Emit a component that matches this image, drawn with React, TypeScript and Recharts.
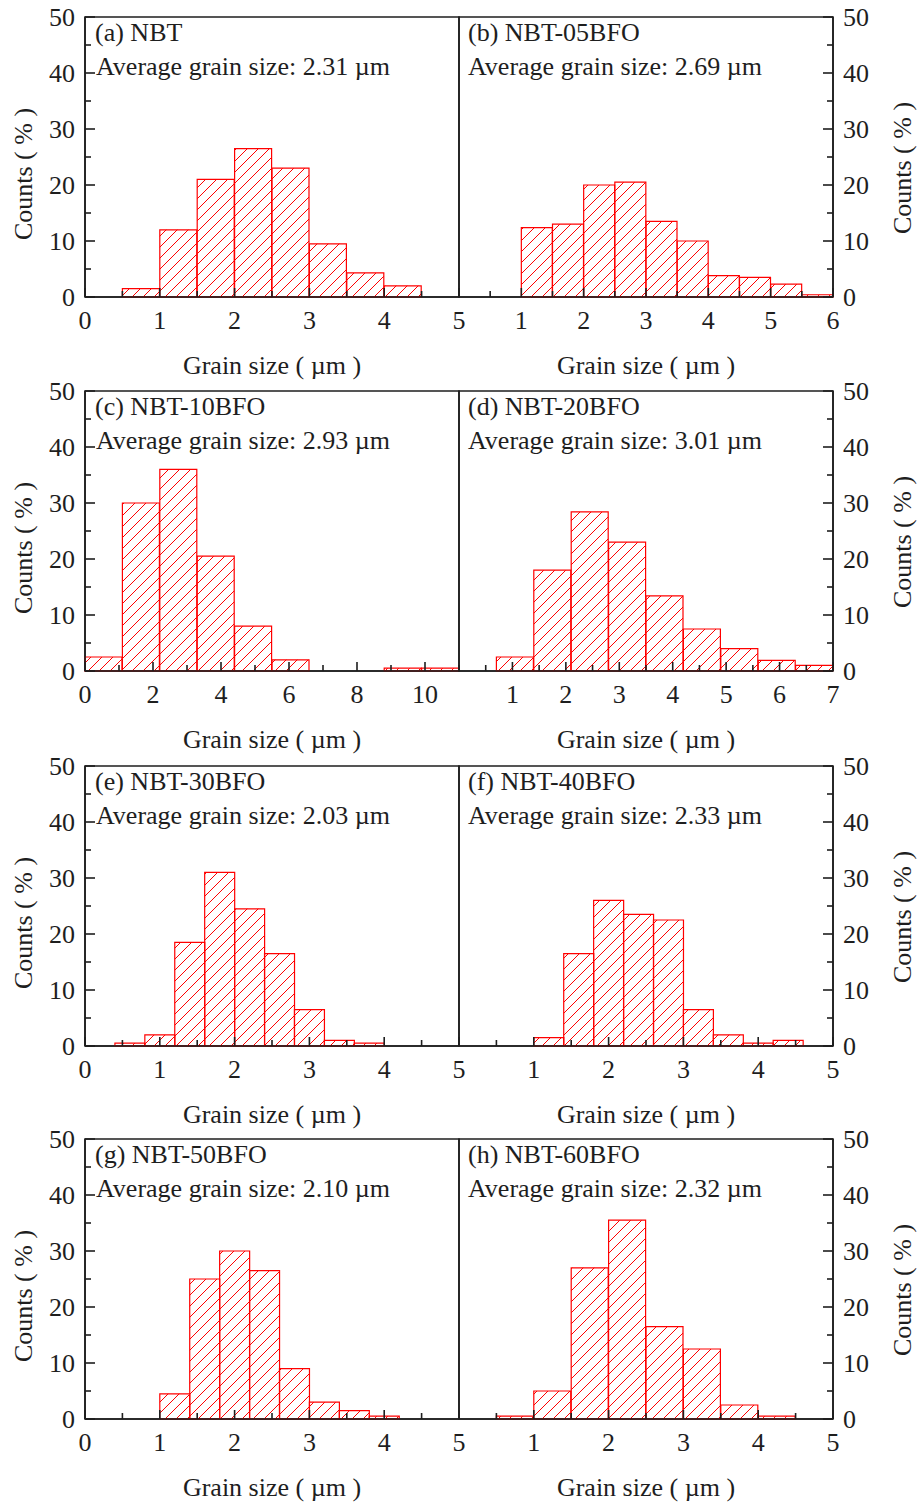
import { BarChart, Bar, XAxis, YAxis, ReferenceArea, Label } from "recharts";

const FONT = '"Liberation Serif", "Times New Roman", serif';
const RED = "#ff0000";
const INK = "#1e1e1e";
const FS = 26;

// bin centres (µm) and counts (%)
const aCenters = [0.75, 1.25, 1.75, 2.25, 2.75, 3.25, 3.75, 4.25];
const aCounts = [1.5, 12, 21, 26.5, 23, 9.5, 4.3, 2];

const bCenters = [1.25, 1.75, 2.25, 2.75, 3.25, 3.75, 4.25, 4.75, 5.25, 5.75];
const bCounts = [12.4, 13, 20, 20.5, 13.5, 10, 3.8, 3.5, 2.3, 0.4];

const cCenters = [0.55, 1.65, 2.75, 3.85, 4.95, 6.05, 7.15, 8.25, 9.35, 10.45];
const cCounts = [2.5, 30, 36, 20.5, 8, 2, 0, 0, 0.5, 0.5];

const dCenters = [1.05, 1.75, 2.45, 3.15, 3.85, 4.55, 5.25, 5.95, 6.65];
const dCounts = [2.5, 18, 28.4, 23, 13.4, 7.5, 4, 1.9, 1];

const eCenters = [0.6, 1.0, 1.4, 1.8, 2.2, 2.6, 3.0, 3.4, 3.8];
const eCounts = [0.5, 2, 18.5, 31, 24.5, 16.5, 6.5, 1, 0.5];

const fCenters = [1.2, 1.6, 2.0, 2.4, 2.8, 3.2, 3.6, 4.0, 4.4];
const fCounts = [1.5, 16.5, 26, 23.5, 22.5, 6.5, 2, 0.5, 1];

const gCenters = [1.2, 1.6, 2.0, 2.4, 2.8, 3.2, 3.6, 4.0];
const gCounts = [4.5, 25, 30, 26.5, 9, 3, 1.5, 0.5];

const hCenters = [0.75, 1.25, 1.75, 2.25, 2.75, 3.25, 3.75, 4.25];
const hCounts = [0.5, 5, 27, 35.5, 16.5, 12.5, 2.5, 0.5];

// axis ticks
const yTicks = [0, 5, 10, 15, 20, 25, 30, 35, 40, 45, 50];
const yLabels = [0, 10, 20, 30, 40, 50];
const ticks5L = [0, 0.5, 1, 1.5, 2, 2.5, 3, 3.5, 4, 4.5, 5];
const labels5L = [0, 1, 2, 3, 4, 5];
const ticks5R = [0.5, 1, 1.5, 2, 2.5, 3, 3.5, 4, 4.5, 5];
const labels5R = [1, 2, 3, 4, 5];
const ticks6R = [0.5, 1, 1.5, 2, 2.5, 3, 3.5, 4, 4.5, 5, 5.5, 6];
const labels6R = [1, 2, 3, 4, 5, 6];
const ticks11L = [0, 1, 2, 3, 4, 5, 6, 7, 8, 9, 10, 11];
const labels11L = [0, 2, 4, 6, 8, 10];
const ticks7R = [0.5, 1, 1.5, 2, 2.5, 3, 3.5, 4, 4.5, 5, 5.5, 6, 6.5, 7];
const labels7R = [1, 2, 3, 4, 5, 6, 7];

const rowTops = [17, 391, 766, 1139];

const panels = [
  { id: "a", title: "(a) NBT", avg: "2.31", side: "left", row: 0, max: 5, centers: aCenters, counts: aCounts, ticks: ticks5L, labels: labels5L },
  { id: "b", title: "(b) NBT-05BFO", avg: "2.69", side: "right", row: 0, max: 6, centers: bCenters, counts: bCounts, ticks: ticks6R, labels: labels6R },
  { id: "c", title: "(c) NBT-10BFO", avg: "2.93", side: "left", row: 1, max: 11, centers: cCenters, counts: cCounts, ticks: ticks11L, labels: labels11L },
  { id: "d", title: "(d) NBT-20BFO", avg: "3.01", side: "right", row: 1, max: 7, centers: dCenters, counts: dCounts, ticks: ticks7R, labels: labels7R },
  { id: "e", title: "(e) NBT-30BFO", avg: "2.03", side: "left", row: 2, max: 5, centers: eCenters, counts: eCounts, ticks: ticks5L, labels: labels5L },
  { id: "f", title: "(f) NBT-40BFO", avg: "2.33", side: "right", row: 2, max: 5, centers: fCenters, counts: fCounts, ticks: ticks5R, labels: labels5R },
  { id: "g", title: "(g) NBT-50BFO", avg: "2.10", side: "left", row: 3, max: 5, centers: gCenters, counts: gCounts, ticks: ticks5L, labels: labels5L },
  { id: "h", title: "(h) NBT-60BFO", avg: "2.32", side: "right", row: 3, max: 5, centers: hCenters, counts: hCounts, ticks: ticks5R, labels: labels5R },
];

const textStyle = { fontFamily: FONT, fontSize: FS, fill: INK };

function xTick(labels: number[]) {
  return (props: any) => {
    const { x, y, payload } = props;
    const major = labels.includes(payload.value);
    return (
      <g>
        <line x1={x} y1={y} x2={x} y2={y - (major ? 9 : 6)} stroke={INK} strokeWidth={1.6} />
        {major && (
          <text x={x} y={y + 32} textAnchor="middle" style={textStyle}>
            {payload.value}
          </text>
        )}
      </g>
    );
  };
}

function yTick(right: boolean) {
  return (props: any) => {
    const { x, y, payload } = props;
    const major = yLabels.includes(payload.value);
    const len = major ? 10 : 6;
    const dir = right ? -1 : 1;
    return (
      <g>
        <line x1={x} y1={y} x2={x + dir * len} y2={y} stroke={INK} strokeWidth={1.6} />
        {major && (
          <text
            x={right ? x + 10 : x - 10}
            y={y}
            dy={9}
            textAnchor={right ? "start" : "end"}
            style={textStyle}
          >
            {payload.value}
          </text>
        )}
      </g>
    );
  };
}

function Panel({ p }: { p: (typeof panels)[number] }) {
  const right = p.side === "right";
  const data = p.centers.map((c, i) => ({ size: c, count: p.counts[i] }));
  const top = rowTops[p.row] - 17;
  const chartLeft = right ? 443 : 0;
  const chartWidth = right ? 476 : 475;
  const yLabelX = right ? 459 : 23;
  const yLabelShift = right ? 11 : 17;
  return (
    <>
      <div style={{ position: "absolute", left: chartLeft, top }}>
        <BarChart
          width={chartWidth}
          height={380}
          data={data}
          barCategoryGap={0}
          barGap={0}
          margin={{ top: 17, right: right ? 0 : 16, left: right ? 16 : 0, bottom: 10 }}
        >
          <defs>
            <pattern id={`hatch-${p.id}`} patternUnits="userSpaceOnUse" width={11} height={11}>
              <path d="M0,11 L11,0 M-3,3 L3,-3 M8,14 L14,8" stroke={RED} strokeWidth={1} />
            </pattern>
          </defs>
          <ReferenceArea
            x1={0}
            x2={p.max}
            y1={0}
            y2={50}
            fill="none"
            stroke={INK}
            strokeWidth={1.6}
            ifOverflow="visible"
          />
          <Bar
            dataKey="count"
            fill={`url(#hatch-${p.id})`}
            stroke={RED}
            strokeWidth={1.2}
            isAnimationActive={false}
          />
          <XAxis
            dataKey="size"
            type="number"
            domain={[0, p.max]}
            ticks={p.ticks}
            interval={0}
            height={73}
            tickSize={0}
            tickMargin={0}
            tickLine={false}
            tick={xTick(p.labels)}
            axisLine={{ stroke: INK, strokeWidth: 1.6 }}
          >
            <Label
              content={(lp: any) => {
                const vb = lp.viewBox || {};
                return (
                  <text
                    x={(vb.x ?? 0) + (vb.width ?? 0) / 2}
                    y={(vb.y ?? 0) + 77}
                    textAnchor="middle"
                    style={textStyle}
                  >
                    Grain size ( µm )
                  </text>
                );
              }}
            />
          </XAxis>
          <YAxis
            orientation={right ? "right" : "left"}
            type="number"
            domain={[0, 50]}
            ticks={yTicks}
            interval={0}
            width={right ? 86 : 85}
            tickSize={0}
            tickMargin={0}
            tickLine={false}
            tick={yTick(right)}
            axisLine={{ stroke: INK, strokeWidth: 1.6 }}
          >
            <Label
              content={(lp: any) => {
                const vb = lp.viewBox || {};
                const cy = (vb.y ?? 17) + (vb.height ?? 280) / 2 + yLabelShift;
                return (
                  <text
                    x={yLabelX}
                    y={cy}
                    dy={9}
                    transform={`rotate(-90 ${yLabelX} ${cy})`}
                    textAnchor="middle"
                    style={textStyle}
                  >
                    Counts ( % )
                  </text>
                );
              }}
            />
          </YAxis>
        </BarChart>
      </div>
      <div
        style={{
          position: "absolute",
          left: right ? 468 : 95,
          top: rowTops[p.row] + 3,
          fontFamily: FONT,
          fontSize: FS,
          lineHeight: "26px",
          color: INK,
          whiteSpace: "nowrap",
        }}
      >
        {p.title}
      </div>
      <div
        style={{
          position: "absolute",
          left: right ? 468 : 96,
          top: rowTops[p.row] + 37,
          fontFamily: FONT,
          fontSize: FS,
          lineHeight: "26px",
          color: INK,
          whiteSpace: "nowrap",
        }}
      >
        {`Average grain size: ${p.avg} µm`}
      </div>
    </>
  );
}

export default function App() {
  return (
    <div
      style={{
        position: "absolute",
        left: 0,
        top: 0,
        width: 919,
        height: 1504,
        background: "#fff",
        overflow: "hidden",
      }}
    >
      {panels.map((p) => (
        <Panel key={p.id} p={p} />
      ))}
    </div>
  );
}
